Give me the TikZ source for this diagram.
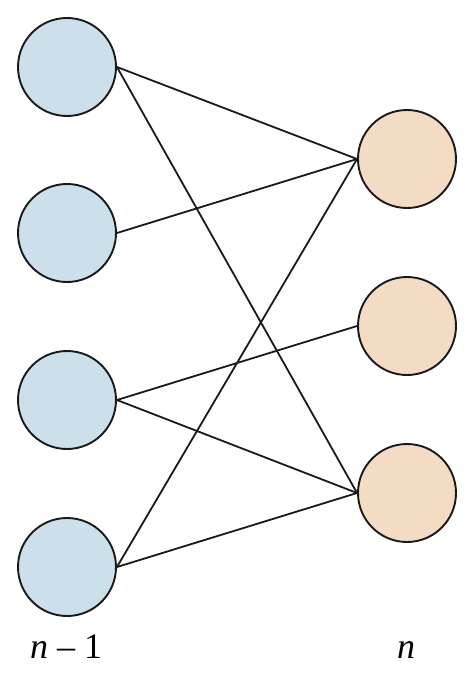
\documentclass[tikz,border=0pt]{standalone}
\usepackage{fontspec}
\setmainfont{Liberation Serif}
\begin{document}
\begin{tikzpicture}[x=1pt,y=-1pt,
  neuron/.style={circle,draw=black!90,line width=1.9pt,minimum size=98pt,inner sep=0pt},
  prev/.style={neuron,fill=blueN},
  curr/.style={neuron,fill=orangeN},
  link/.style={line width=1.8pt,draw=black!90},
  lab/.style={font=\fontsize{36}{40}\selectfont,anchor=base}]
\definecolor{blueN}{HTML}{CCE0EC}
\definecolor{orangeN}{HTML}{F4DCC4}
\useasboundingbox (0,0) rectangle (474,677);
\node[prev] (l1) at (67,67) {};
\node[prev] (l2) at (67,233) {};
\node[prev] (l3) at (67,400) {};
\node[prev] (l4) at (67,567) {};
\node[curr] (r1) at (407,159) {};
\node[curr] (r2) at (407,326) {};
\node[curr] (r3) at (407,493) {};
\draw[link] (l1.east) -- (r1.west);
\draw[link] (l1.east) -- (r3.west);
\draw[link] (l2.east) -- (r1.west);
\draw[link] (l3.east) -- (r2.west);
\draw[link] (l3.east) -- (r3.west);
\draw[link] (l4.east) -- (r1.west);
\draw[link] (l4.east) -- (r3.west);
\node[lab] (t1) at (66,658) {\textit{n} – 1};
\node[lab] (t2) at (406,658) {\textit{n}};
\end{tikzpicture}
\end{document}
